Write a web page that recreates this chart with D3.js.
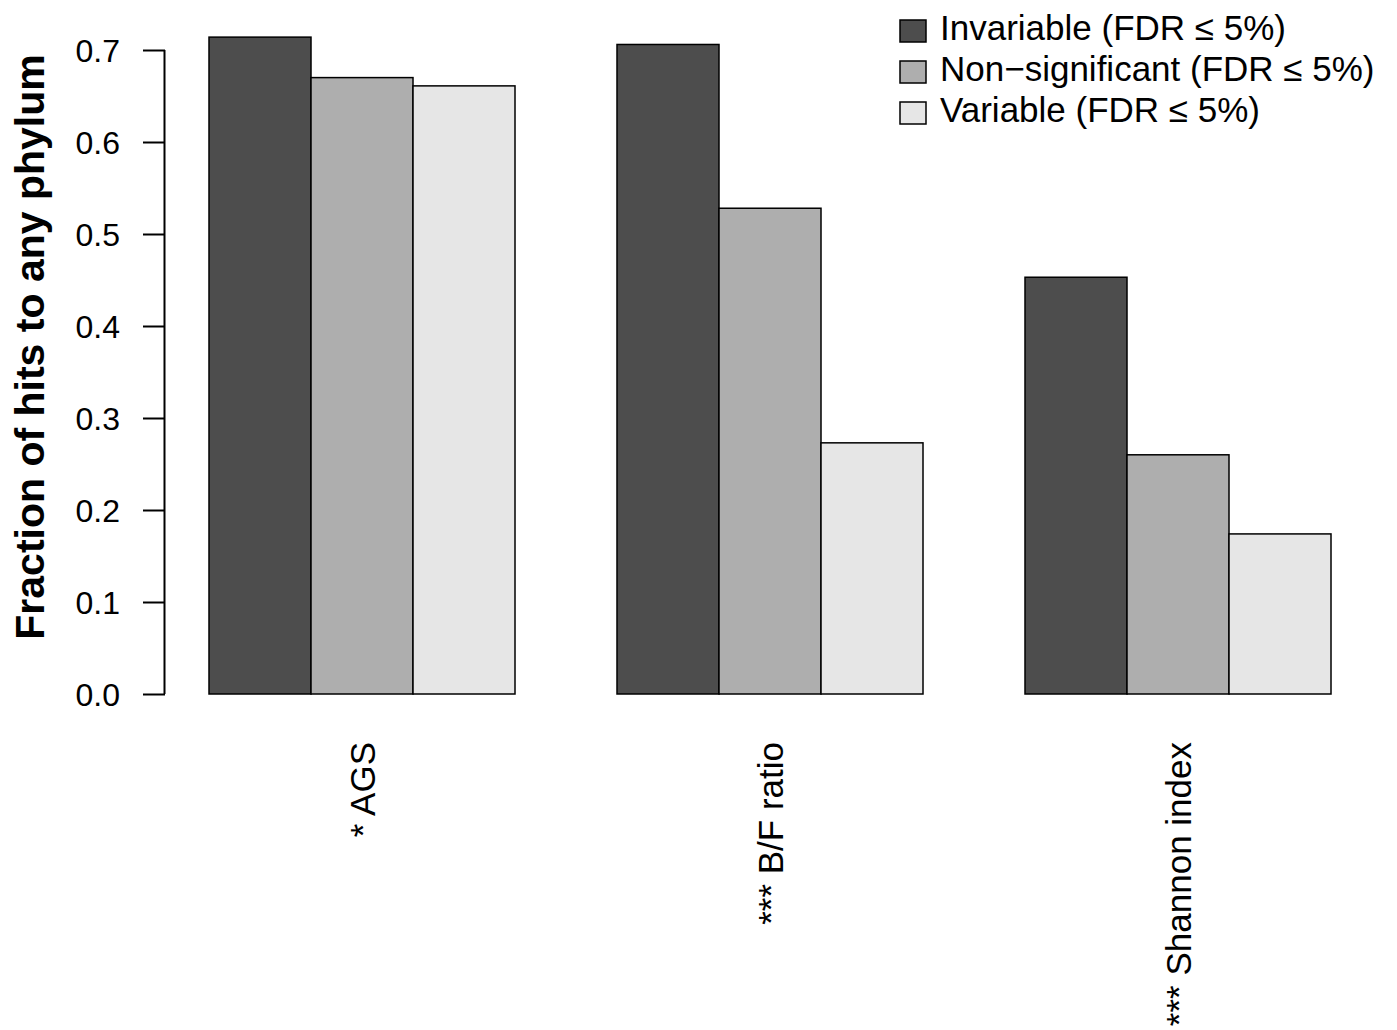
<!DOCTYPE html>
<html>
<head>
<meta charset="utf-8">
<script src="https://cdn.jsdelivr.net/npm/d3@7"></script>
<style>
  html, body { margin: 0; padding: 0; background: #fff; }
  svg text { font-family: "Liberation Sans", Arial, Helvetica, sans-serif; fill: #000; }
</style>
</head>
<body>
<svg id="chart" width="1397" height="1030"></svg>
<script>
// Fraction of hits to any phylum, per metric and significance class
const categories = ["* AGS", "*** B/F ratio", "*** Shannon index"];
const seriesNames = ["Invariable (FDR \u2264 5%)", "Non\u2212significant (FDR \u2264 5%)", "Variable (FDR \u2264 5%)"];
const invariable = [0.714, 0.706, 0.453];
const nonSignificant = [0.670, 0.528, 0.260];
const variable = [0.661, 0.273, 0.174];
const yTicks = [0.0, 0.1, 0.2, 0.3, 0.4, 0.5, 0.6, 0.7];
const fills = ["#4D4D4D", "#AEAEAE", "#E6E6E6"];

const series = [invariable, nonSignificant, variable];

const svg = d3.select("#chart");

// Plot region
const plotLeft = 209, plotRight = 1331, plotBottom = 694;
const yMaxPx = 50; // pixel position of 0.7

const y = d3.scaleLinear().domain([0, 0.7]).range([plotBottom, yMaxPx]);

// Groups separated by a one-bar gap
const x0 = d3.scaleBand()
  .domain(categories)
  .range([plotLeft, plotRight + (plotRight - plotLeft) / 11])
  .paddingInner(0)
  .paddingOuter(0);
const groupWidth = x0.bandwidth() * 3 / 4;
const x1 = d3.scaleBand()
  .domain(d3.range(3))
  .range([0, groupWidth]);

const g = svg.append("g");

categories.forEach((cat, ci) => {
  const grp = g.append("g").attr("transform", `translate(${x0(cat)},0)`);
  series.forEach((vals, si) => {
    grp.append("rect")
      .attr("x", x1(si))
      .attr("y", y(vals[ci]))
      .attr("width", x1.bandwidth())
      .attr("height", y(0) - y(vals[ci]))
      .attr("fill", fills[si])
      .attr("stroke", "#000")
      .attr("stroke-width", 1.5);
  });
});

// Y axis
const yAxis = d3.axisLeft(y)
  .tickValues(yTicks)
  .tickFormat(d3.format(".1f"))
  .tickSize(22)
  .tickPadding(23);
const ya = svg.append("g")
  .attr("transform", "translate(165,0)")
  .call(yAxis);
ya.select(".domain").attr("d", `M-0.5,${y(0)}V${y(0.7)}`).attr("stroke", "#000").attr("stroke-width", 2).attr("fill", "none");
ya.selectAll(".tick line").attr("stroke", "#000").attr("stroke-width", 2);
ya.selectAll(".tick text")
  .attr("font-size", 32)
  .attr("dy", "0.36em")
  .style("font-family", "Liberation Sans, Arial, sans-serif");

// Y title
svg.append("text")
  .attr("transform", "translate(44,347) rotate(-90)")
  .attr("text-anchor", "middle")
  .attr("font-size", 41)
  .attr("font-weight", "bold")
  .text("Fraction of hits to any phylum");

// Category labels, rotated
categories.forEach(cat => {
  const cx = x0(cat) + groupWidth / 2;
  svg.append("text")
    .attr("transform", `translate(${cx + 13},742) rotate(-90)`)
    .attr("text-anchor", "end")
    .attr("font-size", 35)
    .text(cat);
});

// Legend
const legend = svg.append("g").attr("transform", "translate(900,20)");
seriesNames.forEach((name, i) => {
  const row = legend.append("g").attr("transform", `translate(0,${i * 41})`);
  row.append("rect")
    .attr("x", 0).attr("y", 0)
    .attr("width", 26).attr("height", 22)
    .attr("fill", fills[i])
    .attr("stroke", "#000")
    .attr("stroke-width", 1.5);
  row.append("text")
    .attr("x", 40).attr("y", 20)
    .attr("font-size", 35)
    .text(name);
});
</script>
</body>
</html>
